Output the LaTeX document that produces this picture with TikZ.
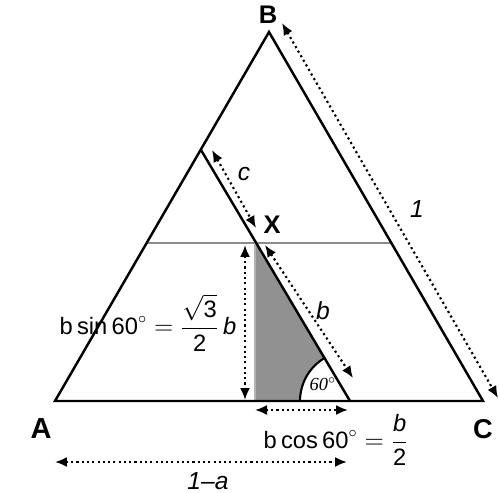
\documentclass[tikz,border=0pt]{standalone}
\usepackage{amsmath}
\usepackage{fontspec}
\setmainfont{Liberation Sans}
\newfontfamily\serifit{Liberation Serif}
\usetikzlibrary{arrows.meta}
\begin{document}
\begin{tikzpicture}[x=0.02cm,y=-0.02cm,
  tri/.style={line width=1.4pt, line join=miter},
  dimarrow/.style={line width=1.2pt, dash pattern=on 1.2pt off 1.8pt,
    {Latex[length=2.4mm,width=2mm]}-{Latex[length=2.4mm,width=2mm]}},
  lbl/.style={font=\fontsize{14.5}{16}\selectfont\bfseries},
  var/.style={font=\fontsize{14}{16}\selectfont\itshape},
  expr/.style={font=\fontsize{13.5}{16}\selectfont},
]
\useasboundingbox (0,0) rectangle (500,493);
% key points
\coordinate (A) at (55,401);
\coordinate (B) at (269,32);
\coordinate (C) at (483,401);
\coordinate (D) at (201,150);
\coordinate (E) at (350,401);
\coordinate (X) at (255,243);
\coordinate (F) at (255,401);
\coordinate (G1) at (147,243);
\coordinate (G2) at (390,243);
% horizontal grey line
\draw[line width=1pt, black!45] (G1) -- (G2);
% shaded triangle
\fill[black!43] (X) -- (F) -- (E) -- cycle;
\draw[line width=0.8pt, black!30] (X) -- (F);
% angle sector
\fill[white] (E) -- ++(-1cm,0) arc[start angle=180, end angle=120.7, radius=1cm] -- cycle;
\draw[line width=1.2pt] (E) ++(-1cm,0) arc[start angle=180, end angle=120.7, radius=1cm];
\node[font=\fontsize{10.5}{12}\selectfont\serifit\itshape] (ang) at (323,384) {60$^\circ$};
% main triangle and parallel line
\draw[tri] (A) -- (B) -- (C) -- cycle;
\draw[tri] (D) -- (E);
% dimension arrows
\coordinate (c1) at (212,150); \coordinate (c2) at (256,228);
\coordinate (b1) at (265,245); \coordinate (b2) at (353,378);
\coordinate (v1) at (245,245); \coordinate (v2) at (245,400);
\coordinate (h1) at (255,410); \coordinate (h2) at (348,410);
\coordinate (a1) at (55,462);  \coordinate (a2) at (347,462);
\coordinate (s1) at (282,23);  \coordinate (s2) at (498,398);
\draw[dimarrow] (c1) -- (c2);
\draw[dimarrow] (b1) -- (b2);
\draw[dimarrow] (v1) -- (v2);
\draw[dimarrow] (h1) -- (h2);
\draw[dimarrow] (a1) -- (a2);
\draw[dimarrow] (s1) -- (s2);
% labels
\node[lbl] (lB) at (268,15) {B};
\node[lbl] (lX) at (272,225) {X};
\node[lbl, font=\fontsize{16.5}{18}\selectfont\bfseries] (lA) at (41,429) {A};
\node[lbl, font=\fontsize{15.5}{18}\selectfont\bfseries] (lC) at (483,429) {C};
\node[var] (lc) at (244,174) {c};
\node[var] (lb) at (323,311) {b};
\node[var] (l1) at (417,209) {1};
\node[var] (l1a) at (208,481) {1\textendash a};
\node[expr] (esin) at (148,323) {$\mathrm{b}\sin \mathrm{60}^{\circ} = \dfrac{\sqrt{\mathrm{3}}}{\mathrm{2}}\,\textit{b}$};
\node[expr] (ecos) at (336,440) {$\mathrm{b}\cos \mathrm{60}^{\circ} = \dfrac{\textit{b}}{\mathrm{2}}$};
\end{tikzpicture}
\end{document}
